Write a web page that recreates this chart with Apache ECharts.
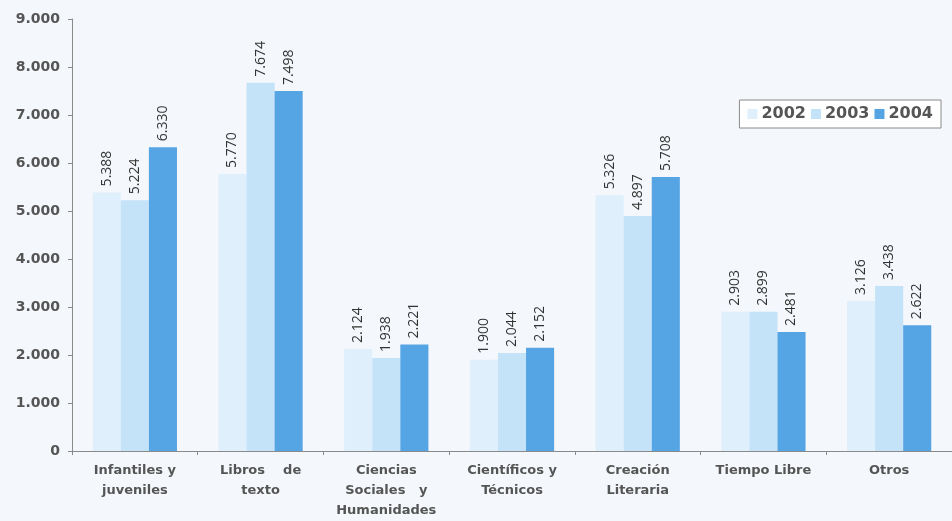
<!DOCTYPE html>
<html>
<head>
<meta charset="utf-8">
<script src="https://cdn.jsdelivr.net/npm/echarts@6/dist/echarts.min.js"></script>
<style>
  html, body { margin: 0; padding: 0; background: #f4f7fb; }
  #chart { width: 952px; height: 521px; }
</style>
</head>
<body>
<div id="chart"></div>
<script>
const categories = [
  'Infantiles y\njuveniles',
  'Libros    de\ntexto',
  'Ciencias\nSociales   y\nHumanidades',
  'Científicos y\nTécnicos',
  'Creación\nLiteraria',
  'Tiempo Libre',
  'Otros'
]
const years = ['2002', '2003', '2004']
const values2002 = [5388, 5770, 2124, 1900, 5326, 2903, 3126]
const values2003 = [5224, 7674, 1938, 2044, 4897, 2899, 3438]
const values2004 = [6330, 7498, 2221, 2152, 5708, 2481, 2622]
const colors = ['#dfeffb', '#c4e2f8', '#55a4e3']

function fmt(v) {
  return String(v).replace(/\B(?=(\d{3})+(?!\d))/g, '.')
}

const chart = echarts.init(document.getElementById('chart'))

const seriesData = [values2002, values2003, values2004]

chart.setOption({
  backgroundColor: '#f4f7fb',
  animation: false,
  textStyle: { fontFamily: 'DejaVu Sans' },
  legend: {
    data: years,
    right: 11,
    top: 100,
    itemWidth: 10,
    itemHeight: 10,
    itemGap: 5,
    padding: [6, 8],
    borderColor: '#8a8a8a',
    borderWidth: 1,
    backgroundColor: '#ffffff',
    icon: 'rect',
    textStyle: { fontSize: 16, fontWeight: 'bold', color: '#555', padding: [0, 0, 0, -1] }
  },
  grid: { left: 72, right: 0, top: 19, bottom: 67, containLabel: false },
  xAxis: {
    type: 'category',
    data: categories,
    axisLine: { lineStyle: { color: '#8a8a8a' } },
    axisTick: { show: true, length: 4, lineStyle: { color: '#8a8a8a' } },
    axisLabel: {
      interval: 0,
      color: '#555',
      fontSize: 13,
      fontWeight: 'bold',
      lineHeight: 20,
      margin: 10
    }
  },
  yAxis: {
    type: 'value',
    min: 0,
    max: 9000,
    interval: 1000,
    axisLine: { show: true, lineStyle: { color: '#8a8a8a' } },
    axisTick: { show: true, length: 4, lineStyle: { color: '#8a8a8a' } },
    splitLine: { show: false },
    axisLabel: {
      color: '#555',
      fontSize: 14,
      fontWeight: 'bold',
      margin: 12,
      formatter: fmt
    }
  },
  series: years.map((y, i) => ({
    name: y,
    type: 'bar',
    data: seriesData[i],
    barGap: '0%',
    barCategoryGap: '33%',
    itemStyle: { color: colors[i] },
    label: {
      show: true,
      position: 'top',
      rotate: 90,
      align: 'left',
      verticalAlign: 'middle',
      distance: 6,
      color: '#333',
      fontSize: 14,
      fontFamily: 'Open Sans',
      formatter: p => fmt(p.value)
    }
  }))
})
</script>
</body>
</html>
